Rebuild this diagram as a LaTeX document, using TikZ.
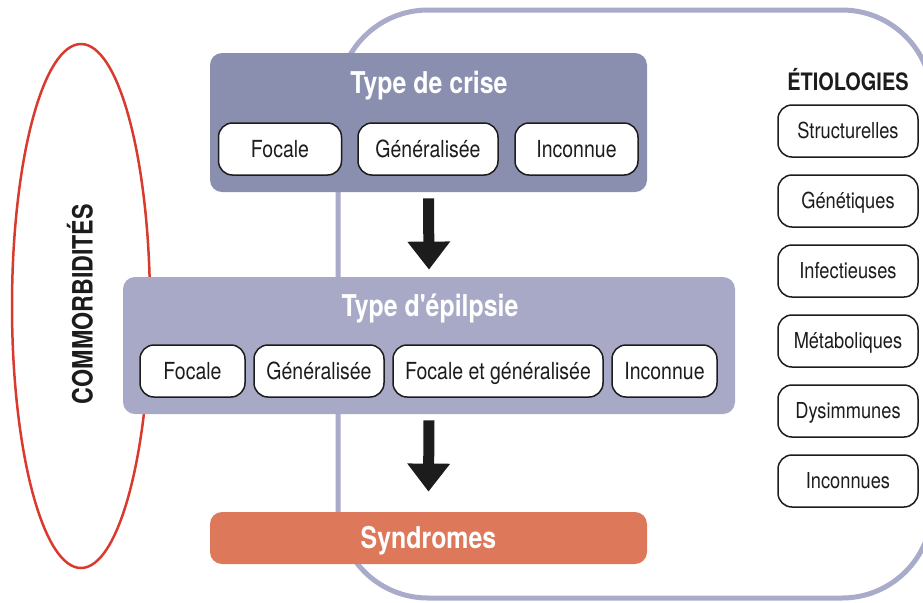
\documentclass[tikz,border=0pt]{standalone}
\usepackage{fontspec}
\setmainfont{TeX Gyre Heros}[FakeStretch=0.83, Ligatures=TeXOff]
\usetikzlibrary{arrows.meta}

\definecolor{crisefill}{HTML}{8A8FB0}
\definecolor{epilfill}{HTML}{A7A9C6}
\definecolor{framecol}{HTML}{A9ABCA}
\definecolor{synfill}{HTML}{DE785B}
\definecolor{comred}{HTML}{D93A2E}
\definecolor{inkcol}{HTML}{1C1C1C}

\tikzset{
  panel/.style={rounded corners=6pt, inner sep=0pt},
  pill/.style={draw=inkcol, line width=0.75pt, fill=white, rounded corners=7pt,
    minimum height=26pt, inner sep=0pt, text height=8.4pt, text depth=0pt,
    text=inkcol, font=\fontsize{11.75}{13}\selectfont},
  etio/.style={pill, minimum width=70pt, text height=7.9pt, font=\fontsize{11}{12}\selectfont},
  paneltitle/.style={text=white, text height=10.8pt, text depth=0pt,
    font=\fontsize{15}{17}\selectfont\bfseries},
  bigarrow/.style={draw=inkcol, line width=5.5pt, -{Triangle[width=20.5pt, length=14pt]}}
}

\begin{document}
\begin{tikzpicture}[x=0.5pt, y=-0.5pt]
    \clip (0,0) rectangle (923,602);

    % Etiologies frame
    \draw[framecol, line width=2.5pt, rounded corners=45pt] (338,10) rectangle (932,598);

    % Comorbidities
    \draw[comred, line width=1.25pt] (81,306) ellipse [x radius=34.5pt, y radius=131pt];
    \node[rotate=90, text=inkcol, font=\fontsize{14}{15}\selectfont\bfseries] (comor) at (80,304) {COMMORBIDITÉS};

    % Type de crise
    \node[panel, fill=crisefill, minimum width=218.5pt, minimum height=69.5pt] (crise) at (428.5,122.5) {};
    \node[paneltitle] (crisetitle) at (429,83) {Type de crise};
    \node[pill, minimum width=61.5pt] (cfocale) at (280,149) {Focale};
    \node[pill, minimum width=70pt] (cgen) at (428,149) {Généralisée};
    \node[pill, minimum width=61.5pt] (cinc) at (576.5,149) {Inconnue};

    % Type d'epilepsie
    \node[panel, fill=epilfill, minimum width=306pt, minimum height=68.5pt] (epil) at (429,345.5) {};
    \node[paneltitle] (epiltitle) at (430,306) {Type d'épilpsie};
    \node[pill, minimum width=52.5pt] (efocale) at (192.5,371) {Focale};
    \node[pill, minimum width=65pt] (egen) at (319,371) {Généralisée};
    \node[pill, minimum width=105pt] (efocgen) at (498,371) {Focale et généralisée};
    \node[pill, minimum width=52.5pt] (einc) at (664.5,371) {Inconnue};

    % Syndromes
    \node[panel, fill=synfill, minimum width=218.5pt, minimum height=26pt, paneltitle] (syn) at (428.5,538) {Syndromes};

    % Arrows
    \draw[bigarrow] ([yshift=-3pt]crise.south) -- ([yshift=3.5pt]epil.north);
    \draw[bigarrow] ([yshift=-3pt]epil.south) -- ([yshift=10pt]syn.north);

    % Etiologies
    \node[text=inkcol, font=\fontsize{12}{14}\selectfont\bfseries] (etiotitle) at (848,80) {ÉTIOLOGIES};
    \node[etio] (struct) at (848,131) {Structurelles};
    \node[etio] (genet) at (848,201) {Génétiques};
    \node[etio] (infect) at (848,271) {Infectieuses};
    \node[etio] (metab) at (848,341) {Métaboliques};
    \node[etio] (dysim) at (848,411) {Dysimmunes};
    \node[etio] (einconnu) at (848,481) {Inconnues};
\end{tikzpicture}
\end{document}
